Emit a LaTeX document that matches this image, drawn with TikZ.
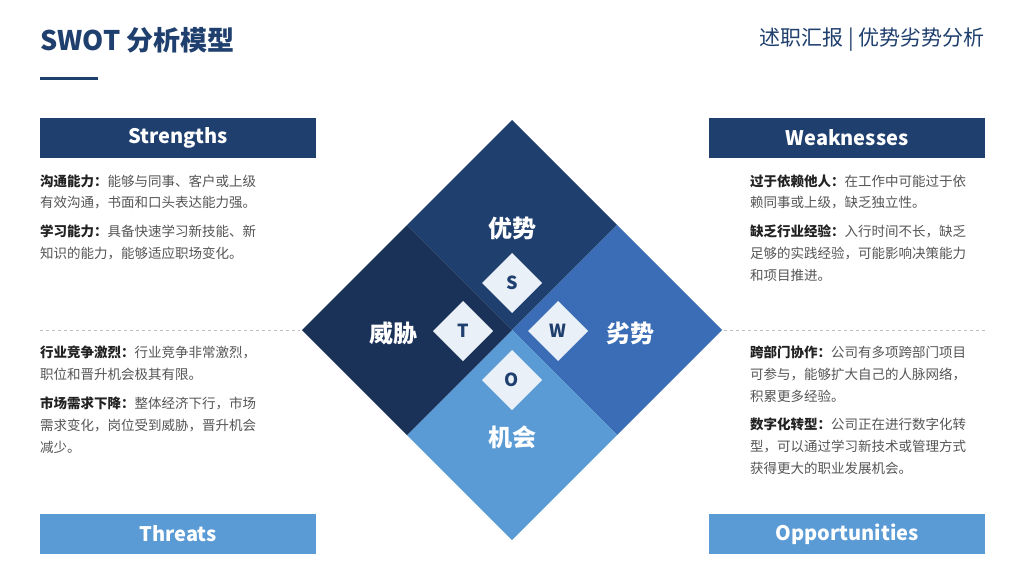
\documentclass[tikz,border=0pt]{standalone}
\usepackage{fontspec}
\setmainfont{Noto Sans CJK SC}
\definecolor{navy}{HTML}{1F3F6E}
\definecolor{dnavy}{HTML}{1A3158}
\definecolor{midb}{HTML}{3A6DB5}
\definecolor{lightb}{HTML}{5B9BD5}
\definecolor{pale}{HTML}{EAF0F8}
\definecolor{body}{HTML}{555555}
\definecolor{lab}{HTML}{222222}
\begin{document}
\begin{tikzpicture}[x=1pt,y=-1pt,
  hdr/.style={minimum width=276pt,minimum height=40pt,inner sep=0pt,text=white,font=\fontsize{20}{24}\selectfont\bfseries},
  ln/.style={anchor=west,inner sep=0pt,text=body,font=\fontsize{13.5}{16}\selectfont},
  quad/.style={font=\fontsize{24}{28}\selectfont\bfseries,text=white},
  let/.style={font=\fontsize{18}{20}\selectfont\bfseries,text=navy},
  dsh/.style={draw=gray!50,dashed,line width=0.6pt}]
\useasboundingbox (0,0) rectangle (1024,576);
\fill[white] (0,0) rectangle (1024,576);
\node[anchor=west,inner sep=0pt,text=navy,font=\fontsize{27}{30}\selectfont\bfseries] (title) at (40,40) {SWOT 分析模型};
\fill[navy] (40,76.5) rectangle (98,79.5);
\node[anchor=east,inner sep=0pt,text=navy,font=\fontsize{21}{24}\selectfont] (sub) at (985,40) {述职汇报 | 优势劣势分析};
% diamond quadrants
\fill[navy] (512,120) -- (617,225) -- (512,330) -- (407,225) -- cycle;
\fill[midb] (617,225) -- (722,330) -- (617,435) -- (512,330) -- cycle;
\fill[lightb] (512,330) -- (617,435) -- (512,540) -- (407,435) -- cycle;
\fill[dnavy] (407,225) -- (512,330) -- (407,435) -- (302,330) -- cycle;
\node[quad] (qs) at (512,228) {优势};
\node[quad] (qw) at (630,333) {劣势};
\node[quad] (qo) at (512,437) {机会};
\node[quad] (qt) at (393,333) {威胁};
\foreach \n/\x/\y/\t in {ds/512/283/S,dt/463/331/T,dw/558/331/W,do/512/380/O}{
  \fill[pale] (\x,\y-30) -- (\x+30,\y) -- (\x,\y+30) -- (\x-30,\y) -- cycle;
  \node[let] (\n) at (\x,\y) {\t};
}
% headers
\node[hdr,fill=navy] (hs) at (178,138) {Strengths};
\node[hdr,fill=navy] (hw) at (847,138) {Weaknesses};
\node[hdr,fill=lightb] (ht) at (178,534) {Threats};
\node[hdr,fill=lightb] (ho) at (847,534) {Opportunities};
\draw[dsh] (40,330) -- (300,330);
\draw[dsh] (724,330) -- (985,330);
% left text
\node[ln] (s1) at (40,181) {\textcolor{lab}{\bfseries 沟通能力：}能够与同事、客户或上级};
\node[ln] (s2) at (40,203) {有效沟通，书面和口头表达能力强。};
\node[ln] (s3) at (40,231) {\textcolor{lab}{\bfseries 学习能力：}具备快速学习新技能、新};
\node[ln] (s4) at (40,253) {知识的能力，能够适应职场变化。};
\node[ln] (t1) at (40,352) {\textcolor{lab}{\bfseries 行业竞争激烈：}行业竞争非常激烈，};
\node[ln] (t2) at (40,374) {职位和晋升机会极其有限。};
\node[ln] (t3) at (40,403) {\textcolor{lab}{\bfseries 市场需求下降：}整体经济下行，市场};
\node[ln] (t4) at (40,425) {需求变化，岗位受到威胁，晋升机会};
\node[ln] (t5) at (40,447) {减少。};
% right text
\node[ln] (w1) at (750,181) {\textcolor{lab}{\bfseries 过于依赖他人：}在工作中可能过于依};
\node[ln] (w2) at (750,203) {赖同事或上级，缺乏独立性。};
\node[ln] (w3) at (750,231) {\textcolor{lab}{\bfseries 缺乏行业经验：}入行时间不长，缺乏};
\node[ln] (w4) at (750,253) {足够的实践经验，可能影响决策能力};
\node[ln] (w5) at (750,275) {和项目推进。};
\node[ln] (o1) at (750,352) {\textcolor{lab}{\bfseries 跨部门协作：}公司有多项跨部门项目};
\node[ln] (o2) at (750,374) {可参与，能够扩大自己的人脉网络，};
\node[ln] (o3) at (750,396) {积累更多经验。};
\node[ln] (o4) at (750,424) {\textcolor{lab}{\bfseries 数字化转型：}公司正在进行数字化转};
\node[ln] (o5) at (750,446) {型，可以通过学习新技术或管理方式};
\node[ln] (o6) at (750,468) {获得更大的职业发展机会。};
\end{tikzpicture}
\end{document}
